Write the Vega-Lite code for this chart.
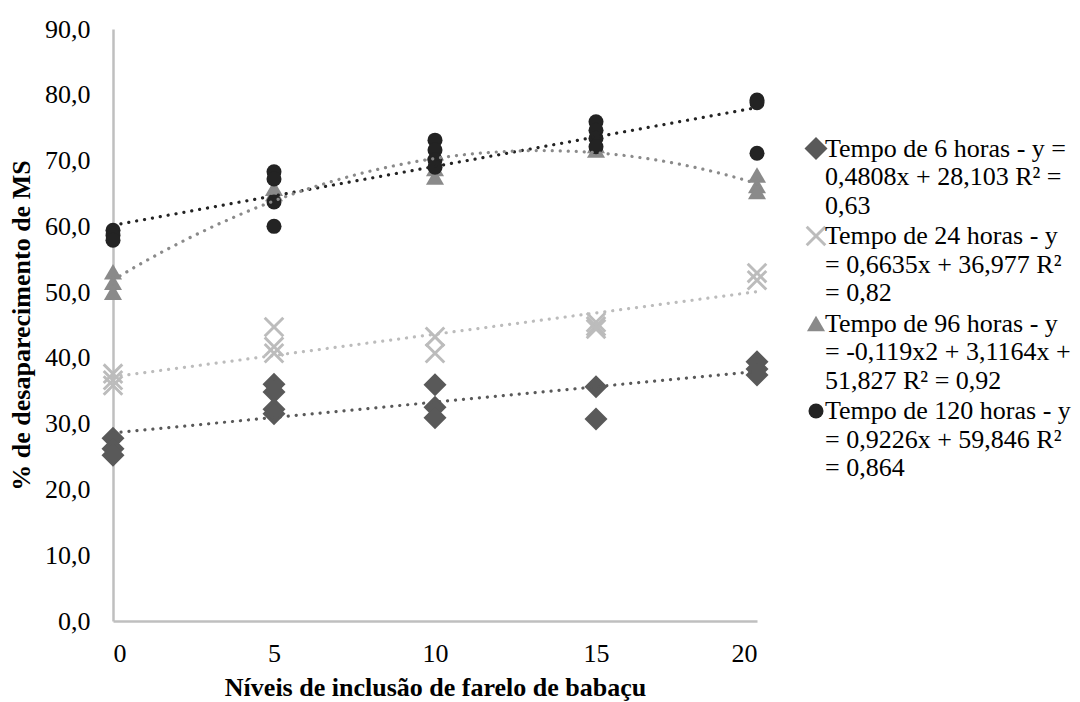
{
  "$schema": "https://vega.github.io/schema/vega-lite/v6.json",
  "width": 644,
  "height": 592,
  "autosize": {"type": "none"},
  "padding": {"left": 113, "top": 29, "right": 323, "bottom": 81},
  "background": "white",
  "config": {
    "locale": {"number": {"decimal": ",", "thousands": ".", "grouping": [3], "currency": ["R$", ""]}},
    "view": {"stroke": null},
    "style": {"guide-label": {"lineHeight": 28.6}},
    "axis": {
      "grid": false,
      "ticks": false,
      "domainColor": "#bfbfbf",
      "domainWidth": 2.5,
      "labelFont": "Liberation Serif",
      "labelFontSize": 26,
      "labelColor": "#000000",
      "titleFont": "Liberation Serif",
      "titleFontSize": 26,
      "titleFontWeight": "bold",
      "titleColor": "#000000"
    },
    "legend": {
      "labelFont": "Liberation Serif",
      "labelFontSize": 26,
      "labelColor": "#000000",
      "symbolSize": 300,
      "symbolStrokeWidth": 0,
      "labelOffset": -4,
      "rowPadding": 3.5,
      "padding": 0,
      "labelLimit": 400
    }
  },
  "data": {
    "values": [
      {"nivel": 0, "ms": 27.8, "serie": "Tempo de 6 horas - y =\n0,4808x + 28,103 R² =\n0,63"},
      {"nivel": 0, "ms": 26.2, "serie": "Tempo de 6 horas - y =\n0,4808x + 28,103 R² =\n0,63"},
      {"nivel": 0, "ms": 25.2, "serie": "Tempo de 6 horas - y =\n0,4808x + 28,103 R² =\n0,63"},
      {"nivel": 5, "ms": 36.0, "serie": "Tempo de 6 horas - y =\n0,4808x + 28,103 R² =\n0,63"},
      {"nivel": 5, "ms": 34.8, "serie": "Tempo de 6 horas - y =\n0,4808x + 28,103 R² =\n0,63"},
      {"nivel": 5, "ms": 32.2, "serie": "Tempo de 6 horas - y =\n0,4808x + 28,103 R² =\n0,63"},
      {"nivel": 5, "ms": 31.5, "serie": "Tempo de 6 horas - y =\n0,4808x + 28,103 R² =\n0,63"},
      {"nivel": 10, "ms": 35.9, "serie": "Tempo de 6 horas - y =\n0,4808x + 28,103 R² =\n0,63"},
      {"nivel": 10, "ms": 32.5, "serie": "Tempo de 6 horas - y =\n0,4808x + 28,103 R² =\n0,63"},
      {"nivel": 10, "ms": 30.9, "serie": "Tempo de 6 horas - y =\n0,4808x + 28,103 R² =\n0,63"},
      {"nivel": 15, "ms": 35.6, "serie": "Tempo de 6 horas - y =\n0,4808x + 28,103 R² =\n0,63"},
      {"nivel": 15, "ms": 30.7, "serie": "Tempo de 6 horas - y =\n0,4808x + 28,103 R² =\n0,63"},
      {"nivel": 20, "ms": 39.4, "serie": "Tempo de 6 horas - y =\n0,4808x + 28,103 R² =\n0,63"},
      {"nivel": 20, "ms": 38.3, "serie": "Tempo de 6 horas - y =\n0,4808x + 28,103 R² =\n0,63"},
      {"nivel": 20, "ms": 37.4, "serie": "Tempo de 6 horas - y =\n0,4808x + 28,103 R² =\n0,63"},
      {"nivel": 0, "ms": 37.6, "serie": "Tempo de 24 horas - y\n= 0,6635x + 36,977 R²\n= 0,82"},
      {"nivel": 0, "ms": 36.6, "serie": "Tempo de 24 horas - y\n= 0,6635x + 36,977 R²\n= 0,82"},
      {"nivel": 0, "ms": 35.8, "serie": "Tempo de 24 horas - y\n= 0,6635x + 36,977 R²\n= 0,82"},
      {"nivel": 5, "ms": 44.7, "serie": "Tempo de 24 horas - y\n= 0,6635x + 36,977 R²\n= 0,82"},
      {"nivel": 5, "ms": 41.7, "serie": "Tempo de 24 horas - y\n= 0,6635x + 36,977 R²\n= 0,82"},
      {"nivel": 5, "ms": 40.7, "serie": "Tempo de 24 horas - y\n= 0,6635x + 36,977 R²\n= 0,82"},
      {"nivel": 10, "ms": 43.2, "serie": "Tempo de 24 horas - y\n= 0,6635x + 36,977 R²\n= 0,82"},
      {"nivel": 10, "ms": 40.7, "serie": "Tempo de 24 horas - y\n= 0,6635x + 36,977 R²\n= 0,82"},
      {"nivel": 15, "ms": 45.4, "serie": "Tempo de 24 horas - y\n= 0,6635x + 36,977 R²\n= 0,82"},
      {"nivel": 15, "ms": 44.8, "serie": "Tempo de 24 horas - y\n= 0,6635x + 36,977 R²\n= 0,82"},
      {"nivel": 15, "ms": 44.4, "serie": "Tempo de 24 horas - y\n= 0,6635x + 36,977 R²\n= 0,82"},
      {"nivel": 20, "ms": 52.9, "serie": "Tempo de 24 horas - y\n= 0,6635x + 36,977 R²\n= 0,82"},
      {"nivel": 20, "ms": 51.8, "serie": "Tempo de 24 horas - y\n= 0,6635x + 36,977 R²\n= 0,82"},
      {"nivel": 0, "ms": 53.1, "serie": "Tempo de 96 horas - y\n= -0,119x2 + 3,1164x +\n51,827 R² = 0,92"},
      {"nivel": 0, "ms": 51.5, "serie": "Tempo de 96 horas - y\n= -0,119x2 + 3,1164x +\n51,827 R² = 0,92"},
      {"nivel": 0, "ms": 50.0, "serie": "Tempo de 96 horas - y\n= -0,119x2 + 3,1164x +\n51,827 R² = 0,92"},
      {"nivel": 5, "ms": 65.8, "serie": "Tempo de 96 horas - y\n= -0,119x2 + 3,1164x +\n51,827 R² = 0,92"},
      {"nivel": 5, "ms": 65.0, "serie": "Tempo de 96 horas - y\n= -0,119x2 + 3,1164x +\n51,827 R² = 0,92"},
      {"nivel": 10, "ms": 71.2, "serie": "Tempo de 96 horas - y\n= -0,119x2 + 3,1164x +\n51,827 R² = 0,92"},
      {"nivel": 10, "ms": 68.8, "serie": "Tempo de 96 horas - y\n= -0,119x2 + 3,1164x +\n51,827 R² = 0,92"},
      {"nivel": 10, "ms": 67.5, "serie": "Tempo de 96 horas - y\n= -0,119x2 + 3,1164x +\n51,827 R² = 0,92"},
      {"nivel": 15, "ms": 72.3, "serie": "Tempo de 96 horas - y\n= -0,119x2 + 3,1164x +\n51,827 R² = 0,92"},
      {"nivel": 15, "ms": 71.6, "serie": "Tempo de 96 horas - y\n= -0,119x2 + 3,1164x +\n51,827 R² = 0,92"},
      {"nivel": 20, "ms": 67.8, "serie": "Tempo de 96 horas - y\n= -0,119x2 + 3,1164x +\n51,827 R² = 0,92"},
      {"nivel": 20, "ms": 66.2, "serie": "Tempo de 96 horas - y\n= -0,119x2 + 3,1164x +\n51,827 R² = 0,92"},
      {"nivel": 20, "ms": 65.3, "serie": "Tempo de 96 horas - y\n= -0,119x2 + 3,1164x +\n51,827 R² = 0,92"},
      {"nivel": 0, "ms": 59.4, "serie": "Tempo de 120 horas - y\n= 0,9226x + 59,846 R²\n= 0,864"},
      {"nivel": 0, "ms": 58.6, "serie": "Tempo de 120 horas - y\n= 0,9226x + 59,846 R²\n= 0,864"},
      {"nivel": 0, "ms": 57.9, "serie": "Tempo de 120 horas - y\n= 0,9226x + 59,846 R²\n= 0,864"},
      {"nivel": 5, "ms": 68.3, "serie": "Tempo de 120 horas - y\n= 0,9226x + 59,846 R²\n= 0,864"},
      {"nivel": 5, "ms": 67.2, "serie": "Tempo de 120 horas - y\n= 0,9226x + 59,846 R²\n= 0,864"},
      {"nivel": 5, "ms": 63.7, "serie": "Tempo de 120 horas - y\n= 0,9226x + 59,846 R²\n= 0,864"},
      {"nivel": 5, "ms": 60.0, "serie": "Tempo de 120 horas - y\n= 0,9226x + 59,846 R²\n= 0,864"},
      {"nivel": 10, "ms": 73.1, "serie": "Tempo de 120 horas - y\n= 0,9226x + 59,846 R²\n= 0,864"},
      {"nivel": 10, "ms": 71.6, "serie": "Tempo de 120 horas - y\n= 0,9226x + 59,846 R²\n= 0,864"},
      {"nivel": 10, "ms": 70.1, "serie": "Tempo de 120 horas - y\n= 0,9226x + 59,846 R²\n= 0,864"},
      {"nivel": 10, "ms": 69.0, "serie": "Tempo de 120 horas - y\n= 0,9226x + 59,846 R²\n= 0,864"},
      {"nivel": 15, "ms": 75.9, "serie": "Tempo de 120 horas - y\n= 0,9226x + 59,846 R²\n= 0,864"},
      {"nivel": 15, "ms": 74.6, "serie": "Tempo de 120 horas - y\n= 0,9226x + 59,846 R²\n= 0,864"},
      {"nivel": 15, "ms": 73.4, "serie": "Tempo de 120 horas - y\n= 0,9226x + 59,846 R²\n= 0,864"},
      {"nivel": 15, "ms": 72.1, "serie": "Tempo de 120 horas - y\n= 0,9226x + 59,846 R²\n= 0,864"},
      {"nivel": 20, "ms": 79.2, "serie": "Tempo de 120 horas - y\n= 0,9226x + 59,846 R²\n= 0,864"},
      {"nivel": 20, "ms": 78.8, "serie": "Tempo de 120 horas - y\n= 0,9226x + 59,846 R²\n= 0,864"},
      {"nivel": 20, "ms": 71.1, "serie": "Tempo de 120 horas - y\n= 0,9226x + 59,846 R²\n= 0,864"}
    ]
  },
  "encoding": {
    "x": {
      "field": "nivel", "type": "quantitative",
      "scale": {"domain": [0, 20], "nice": false},
      "axis": {"values": [0, 5, 10, 15, 20], "title": "Níveis de inclusão de farelo de babaçu", "labelPadding": 19, "titlePadding": 8}
    },
    "y": {
      "field": "ms", "type": "quantitative",
      "scale": {"domain": [0, 90], "nice": false},
      "axis": {"values": [0, 10, 20, 30, 40, 50, 60, 70, 80, 90], "format": ".1f", "title": "% de desaparecimento de MS", "labelPadding": 23, "titlePadding": 10}
    }
  },
  "layer": [
    {
      "mark": {"type": "point", "filled": true, "opacity": 1, "strokeWidth": 0},
      "encoding": {
        "color": {
          "field": "serie", "type": "nominal",
          "scale": {
            "domain": [
              "Tempo de 6 horas - y =\n0,4808x + 28,103 R² =\n0,63",
              "Tempo de 24 horas - y\n= 0,6635x + 36,977 R²\n= 0,82",
              "Tempo de 96 horas - y\n= -0,119x2 + 3,1164x +\n51,827 R² = 0,92",
              "Tempo de 120 horas - y\n= 0,9226x + 59,846 R²\n= 0,864"
            ],
            "range": ["#595959", "#bcbcbc", "#8a8a8a", "#232323"]
          },
          "legend": {
            "title": null,
            "orient": "none",
            "legendX": 690,
            "legendY": 106.5,
            "labelExpr": "split(datum.label, '\\n')",
            "labelBaseline": "middle"
          }
        },
        "shape": {
          "field": "serie", "type": "nominal",
          "scale": {
            "domain": [
              "Tempo de 6 horas - y =\n0,4808x + 28,103 R² =\n0,63",
              "Tempo de 24 horas - y\n= 0,6635x + 36,977 R²\n= 0,82",
              "Tempo de 96 horas - y\n= -0,119x2 + 3,1164x +\n51,827 R² = 0,92",
              "Tempo de 120 horas - y\n= 0,9226x + 59,846 R²\n= 0,864"
            ],
            "range": ["diamond", "M-0.8,-1L0,-0.2L0.8,-1L1,-0.8L0.2,0L1,0.8L0.8,1L0,0.2L-0.8,1L-1,0.8L-0.2,0L-1,-0.8Z", "triangle-up", "circle"]
          }
        },
        "size": {
          "field": "serie", "type": "nominal", "legend": null,
          "scale": {
            "domain": [
              "Tempo de 6 horas - y =\n0,4808x + 28,103 R² =\n0,63",
              "Tempo de 24 horas - y\n= 0,6635x + 36,977 R²\n= 0,82",
              "Tempo de 96 horas - y\n= -0,119x2 + 3,1164x +\n51,827 R² = 0,92",
              "Tempo de 120 horas - y\n= 0,9226x + 59,846 R²\n= 0,864"
            ],
            "range": [529, 225, 200, 240]
          }
        }
      }
    },
    {
      "transform": [
        {"filter": "indexof(datum.serie, 'Tempo de 96') < 0"},
        {"regression": "ms", "on": "nivel", "groupby": ["serie"], "method": "linear", "extent": [0, 20]}
      ],
      "mark": {"type": "line", "strokeWidth": 3.2, "strokeDash": [0.1, 7.9], "strokeCap": "round"},
      "encoding": {
        "color": {"field": "serie", "type": "nominal", "legend": null}
      }
    },
    {
      "transform": [
        {"filter": "indexof(datum.serie, 'Tempo de 96') >= 0"},
        {"regression": "ms", "on": "nivel", "groupby": ["serie"], "method": "poly", "order": 2, "extent": [0, 20]}
      ],
      "mark": {"type": "line", "strokeWidth": 3.2, "strokeDash": [0.1, 7.9], "strokeCap": "round"},
      "encoding": {
        "color": {"field": "serie", "type": "nominal", "legend": null}
      }
    }
  ]
}
